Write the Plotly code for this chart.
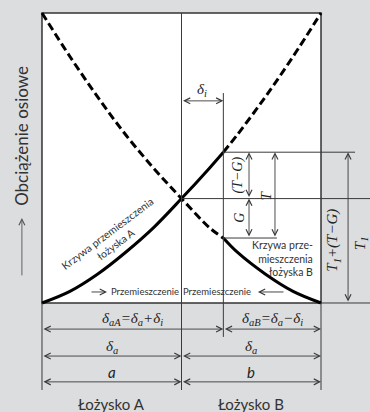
import plotly.graph_objects as go

# Displacement (box width = 100) and axial load (box height = 100)
disp = [0, 10, 20, 30, 40, 50, 60, 65, 70, 80, 90, 100]
load_a = [0, 4, 10, 17.5, 26, 36, 46.5, 52, 58, 71, 85, 100]
load_b = [100, 85, 71, 58, 46.5, 36, 26, 22.4, 17.5, 10, 4, 0]

# Dimensions along the bottom
a = 50
b = 50
delta_i = 15

SERIF = "Liberation Serif, DejaVu Serif, serif"
SANS = "Lato, Noto Sans, sans-serif"
LINE = "#3a3a3a"
BG = "#dcdddf"

split = disp.index(a + delta_i)
t_level = load_a[split]
g_level = load_b[split]
cross = load_a[disp.index(a)]
right_edge = 117.56
bottom = -30

fig = go.Figure()

# Load/displacement curves: solid where they act, dashed beyond
fig.add_trace(go.Scatter(x=disp[:split + 1], y=load_a[:split + 1], mode="lines",
                         line=dict(color="black", width=3, shape="spline")))
fig.add_trace(go.Scatter(x=disp[split:], y=load_a[split:], mode="lines",
                         line=dict(color="black", width=3, shape="spline", dash="8px,4px")))
fig.add_trace(go.Scatter(x=disp[:split + 1], y=load_b[:split + 1], mode="lines",
                         line=dict(color="black", width=3, shape="spline", dash="8px,4px")))
fig.add_trace(go.Scatter(x=disp[split:], y=load_b[split:], mode="lines",
                         line=dict(color="black", width=3, shape="spline")))

shapes = [
    dict(type="rect", x0=0, x1=a + b, y0=0, y1=100, fillcolor="white",
         line=dict(color="#333", width=1.5), layer="below"),
    dict(type="line", x0=a, x1=a, y0=bottom, y1=100, line=dict(color=LINE, width=1)),
    dict(type="line", x0=a + delta_i, x1=a + delta_i, y0=-11.7, y1=72.4,
         line=dict(color=LINE, width=1)),
    dict(type="line", x0=0, x1=0, y0=bottom, y1=0, line=dict(color=LINE, width=1)),
    dict(type="line", x0=a + b, x1=a + b, y0=bottom, y1=0, line=dict(color=LINE, width=1)),
    dict(type="line", x0=a + b, x1=right_edge, y0=0, y1=0, line=dict(color=LINE, width=1)),
    dict(type="line", x0=a, x1=right_edge, y0=cross, y1=cross, line=dict(color=LINE, width=1)),
    dict(type="line", x0=a + delta_i, x1=112.2, y0=t_level, y1=t_level,
         line=dict(color=LINE, width=1)),
    dict(type="line", x0=a + delta_i, x1=84.2, y0=g_level, y1=g_level,
         line=dict(color=LINE, width=1)),
]

annotations = []


def dim(x0, y0, x1, y1, both=True, color=LINE):
    annotations.append(dict(
        x=x1, y=y1, ax=x0, ay=y0, xref="x", yref="y", axref="x", ayref="y",
        text="", showarrow=True, arrowhead=5, startarrowhead=5,
        arrowside="end+start" if both else "end",
        arrowsize=1.3, startarrowsize=1.3, arrowwidth=0.9,
        arrowcolor=color, standoff=0, startstandoff=0))


def label(x, y, text, size=15, font=SERIF, angle=0, color="#222", **kw):
    annotations.append(dict(x=x, y=y, xref="x", yref="y", text=text, showarrow=False,
                            textangle=angle, font=dict(family=font, size=size, color=color),
                            **kw))


# delta_i
dim(a, 69.7, a + delta_i, 69.7)
label(a + delta_i / 2, 73.6, "<i>δ<sub>i</sub></i>")

# bottom dimension rows
dim(0, -9, a + delta_i, -9)
dim(a + delta_i, -9, a + b, -9)
dim(0, -18.3, a, -18.3)
dim(a, -18.3, a + b, -18.3)
dim(0, -27.2, a, -27.2)
dim(a, -27.2, a + b, -27.2)
label((a + delta_i) / 2, -5.6, "<i>δ<sub>aA</sub>=δ<sub>a</sub>+δ<sub>i</sub></i>")
label((a + delta_i + a + b) / 2, -5.6, "<i>δ<sub>aB</sub>=δ<sub>a</sub>−δ<sub>i</sub></i>")
label(a / 2, -15.2, "<i>δ<sub>a</sub></i>")
label(a + b / 2, -15.2, "<i>δ<sub>a</sub></i>")
label(a / 2, -23.8, "<i>a</i>", size=15, font=SANS)
label(a + b / 2, -23.8, "<i>b</i>", size=15, font=SANS)
label(a / 2, -34.8, "Łożysko A", size=15, font=SANS, color="#333")
label(a + b / 2, -34.8, "Łożysko B", size=15, font=SANS, color="#333")

# load dimensions on the right
dim(74.2, cross, 74.2, t_level)
dim(74.2, g_level, 74.2, cross)
dim(83.5, g_level, 83.5, t_level)
dim(109.7, 0, 109.7, t_level)
label(70.3, (cross + t_level) / 2, "<i>(T−G)</i>", size=14, angle=-90)
label(70.8, (g_level + cross) / 2, "<i>G</i>", size=14, angle=-90)
label(80.4, (g_level + t_level) / 2, "<i>T</i>", size=15, angle=-90)
label(104.3, 21.5, "<i>T<sub>1</sub>+(T−G)</i>", size=15, angle=-90)
label(114.2, 20.5, "<i>T<sub>1</sub></i>", size=15, angle=-90)

# y axis title with arrow
label(-7.2, 57.6, "Obciążenie osiowe", size=17, font=SANS, angle=-90, color="#333")
dim(-7.2, 9, -7.2, 29.3, both=False, color="#555")

# displacement directions
dim(17.2, 3.8, 23.3, 3.8, both=False, color="#333")
label(23.9, 3.8, "Przemieszczenie", size=9.5, font=SANS, xanchor="left", color="#333")
dim(87.1, 3.8, 77.4, 3.8, both=False, color="#333")
label(75.6, 3.8, "Przemieszczenie", size=9.5, font=SANS, xanchor="right", color="#333")

# curve labels
label(25.0, 22.0, "Krzywa przemieszczenia<br>łożyska A", size=10.5, font=SANS,
      angle=-37, color="#333")
label(97.8, 15.5, "Krzywa prze-<br>mieszczenia<br>łożyska B", size=10.5, font=SANS,
      xanchor="right", align="right", color="#333")

fig.update_layout(
    width=370, height=412,
    margin=dict(l=0, r=0, t=0, b=0),
    paper_bgcolor=BG, plot_bgcolor=BG,
    showlegend=False,
    shapes=shapes, annotations=annotations,
    xaxis=dict(range=[-15.05, right_edge], visible=False, fixedrange=True),
    yaxis=dict(range=[-37.59, 104.48], visible=False, fixedrange=True),
)

# page body has a default margin; drop it so the figure fills the window
fig.write_html("out.html", config={"displayModeBar": False},
               post_script="document.body.style.margin='0';")
